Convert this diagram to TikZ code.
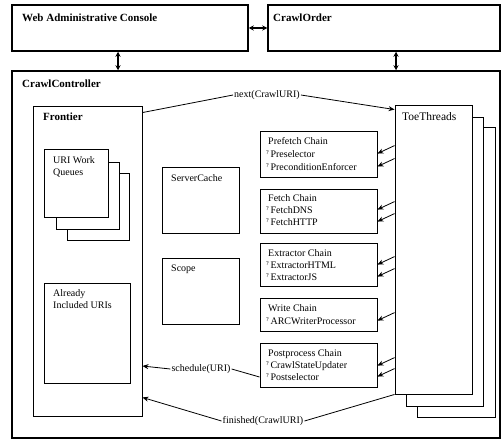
\documentclass[tikz,border=0pt]{standalone}
\usepackage{fontspec}
\setmainfont{Liberation Serif}
\usetikzlibrary{fit,calc,arrows.meta}
\newcommand{\qmark}{\raisebox{3pt}{\fontsize{6}{6}\selectfont ?}\,}
\begin{document}
\begin{tikzpicture}[x=1pt,y=-1pt,
  outer/.style={draw, line width=1.5pt, inner sep=0pt},
  inbox/.style={draw, line width=0.9pt, inner sep=0pt, fill=white},
  title/.style={anchor=base west, inner sep=0pt, font=\fontsize{11}{13}\selectfont\bfseries},
  lbl/.style={anchor=base west, inner sep=0pt, font=\fontsize{10}{12}\selectfont},
  conn/.style={line width=0.8pt},
  arr/.style={line width=0.8pt, -{Stealth[length=6pt,width=5pt]}},
  dbl/.style={line width=1.2pt, {Stealth[length=5pt,width=5pt]}-{Stealth[length=5pt,width=5pt]}},
  msg/.style={inner sep=1pt, font=\fontsize{10}{12}\selectfont}]
\useasboundingbox (0,0) rectangle (502,441);

% top boxes
\node[outer, fit={(12,5) (248,51)}] (wac) {};
\node[title] (wact) at (22,22) {Web Administrative Console};
\node[outer, fit={(268,5) (500,51)}] (co) {};
\node[title] (cot) at (273,22) {CrawlOrder};

% controller
\node[outer, fit={(12,71) (500,438)}] (cc) {};
\node[title] (cct) at (22,88) {CrawlController};

% frontier
\node[inbox, fit={(33,106) (142,416)}] (fr) {};
\node[title] (frt) at (43,120) {Frontier};
\node[inbox, fit={(67,173) (129,240)}] (q3) {};
\node[inbox, fit={(56,162) (119,229)}] (q2) {};
\node[inbox, fit={(44,149) (108,217)}] (q1) {};
\node[lbl] (q1a) at (53,163) {URI Work};
\node[lbl] (q1b) at (53,175) {Queues};
\node[inbox, fit={(44,283) (130,383)}] (aiu) {};
\node[lbl] (aiua) at (53,296) {Already};
\node[lbl] (aiub) at (53,308) {Included URIs};

% server cache and scope
\node[inbox, fit={(162,167) (239,233)}] (sc) {};
\node[lbl] (sct) at (171,181) {ServerCache};
\node[inbox, fit={(162,258) (239,324)}] (scope) {};
\node[lbl] (scopet) at (171,271) {Scope};

% toe threads
\node[inbox, fit={(417,127) (495,417)}] (tt3) {};
\node[inbox, fit={(406,117) (483,406)}] (tt2) {};
\node[inbox, fit={(395,105) (472,394)}] (tt1) {};
\node[lbl, font=\fontsize{11.5}{13}\selectfont] (ttt) at (402,120) {ToeThreads};

% chains
\node[inbox, fit={(260,131) (377,177)}] (pre) {};
\node[lbl] (preh) at (268,144) {Prefetch Chain};
\node[lbl] (pre1) at (266,157) {\qmark Preselector};
\node[lbl] (pre2) at (266,170) {\qmark PreconditionEnforcer};

\node[inbox, fit={(260,189) (377,233)}] (fet) {};
\node[lbl] (feth) at (268,201) {Fetch Chain};
\node[lbl] (fet1) at (266,213) {\qmark FetchDNS};
\node[lbl] (fet2) at (266,225) {\qmark FetchHTTP};

\node[inbox, fit={(260,243) (377,286)}] (ext) {};
\node[lbl] (exth) at (268,256) {Extractor Chain};
\node[lbl] (ext1) at (266,268) {\qmark ExtractorHTML};
\node[lbl] (ext2) at (266,280) {\qmark ExtractorJS};

\node[inbox, fit={(260,298) (377,331)}] (wri) {};
\node[lbl] (wrih) at (268,311) {Write Chain};
\node[lbl] (wri1) at (266,324) {\qmark ARCWriterProcessor};

\node[inbox, fit={(260,343) (377,387)}] (post) {};
\node[lbl] (posth) at (268,356) {Postprocess Chain};
\node[lbl] (post1) at (266,368) {\qmark CrawlStateUpdater};
\node[lbl] (post2) at (266,380) {\qmark Postselector};

% arrows toe threads -> chains
\foreach \ch/\it in {pre/pre1,pre/pre2,fet/fet1,fet/fet2,ext/ext1,ext/ext2,wri/wri1,post/post1,post/post2}{
  \draw[arr] ($(tt1.west |- \it)+(0,-8)$) -- (\ch.east |- \it);
}

% double arrows
\draw[dbl] (wac.east) -- (co.west);
\coordinate (v1) at (118,0);
\coordinate (v2) at (396,0);
\draw[dbl] (wac.south -| v1) -- (cc.north -| v1);
\draw[dbl] (co.south -| v2) -- (cc.north -| v2);

% messages
\node[msg] (nxt) at (267,95) {next(CrawlURI)};
\draw[conn] ($(fr.north east)+(0,7)$) -- (nxt.west);
\draw[arr] (nxt.east) -- ($(tt1.north west)+(0,5)$);

\node[msg] (sch) at (201,369) {schedule(URI)};
\draw[arr] (sch.west) -- ($(fr.east |- sch)+(0,-3)$);
\draw[conn] ($(post.west)+(0,12)$) -- (sch.east);

\node[msg] (fin) at (263,421) {finished(CrawlURI)};
\draw[arr] (fin.west) -- ($(fr.south east)+(0,-19)$);
\draw[conn] (fin.east) -- (tt1.south west);
\end{tikzpicture}
\end{document}
